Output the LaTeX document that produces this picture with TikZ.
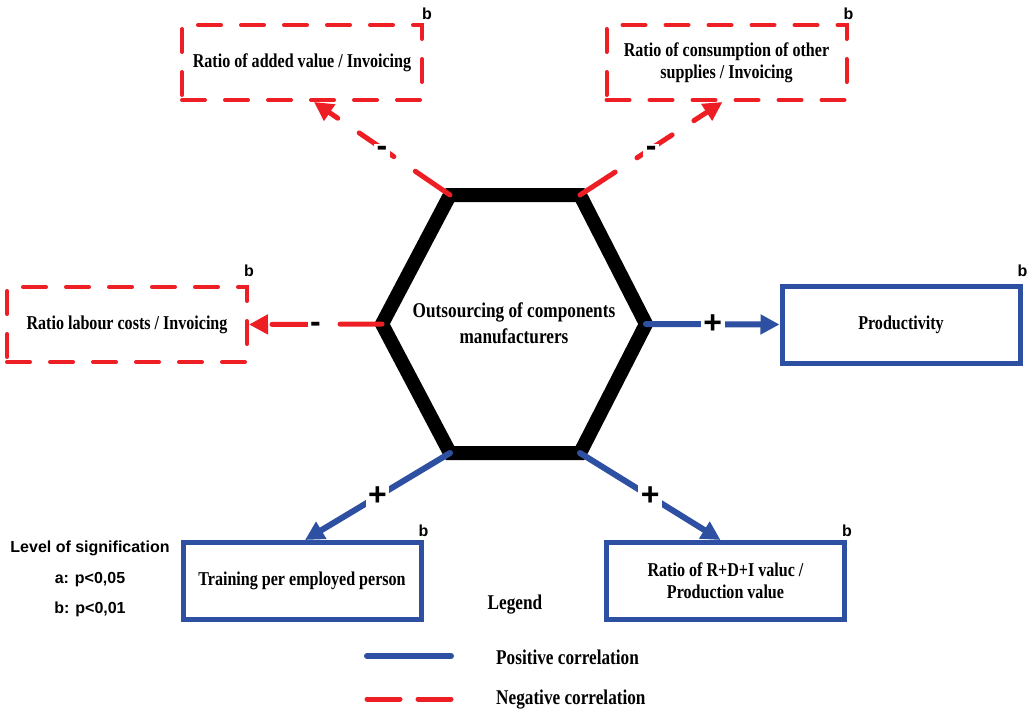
\documentclass[tikz,border=0pt]{standalone}
\usepackage{fontspec}
\setmainfont{Liberation Serif}
\setsansfont{Liberation Sans}
\newfontfamily\narrowserif{Liberation Serif}[FakeStretch=0.82]
\usetikzlibrary{arrows.meta}

\definecolor{negred}{RGB}{237,30,36}
\definecolor{posblue}{RGB}{46,80,162}

\begin{document}
\begin{tikzpicture}[
x=1pt, y=-1pt, % one unit = one pixel of the original figure
>={Triangle[length=19pt,width=19pt]},
every node/.style={inner sep=2pt},
boxtext/.style={align=center, font=\narrowserif\bfseries\fontsize{19.6}{22}\selectfont},
negbox/.style={boxtext, draw=negred, line width=4pt, line cap=round,
  dash pattern=on 23pt off 20pt, minimum width=240pt, minimum height=75pt},
posbox/.style={boxtext, draw=posblue, line width=5pt, minimum width=238pt, minimum height=77pt},
neglink/.style={->, draw=negred, line width=5pt, line cap=round, dash pattern=on 42pt off 26pt},
poslink/.style={->, draw=posblue, line width=6pt, line cap=round},
sign/.style={fill=white, inner sep=2.5pt, text=black, font=\sffamily\bfseries\fontsize{32}{32}\selectfont},
minus/.style={sign, yshift=-3pt},
sig/.style={anchor=south, yshift=1pt, font=\sffamily\bfseries\fontsize{16}{18}\selectfont},
legtext/.style={anchor=west, font=\narrowserif\bfseries\fontsize{21}{24}\selectfont}
]
\useasboundingbox (0,0) rectangle (1028,712);

% ================= Hexagon =================
\coordinate (hTL) at (450,195);
\coordinate (hTR) at (580,195);
\coordinate (hR) at (646,324);
\coordinate (hBR) at (580,453);
\coordinate (hBL) at (450,453);
\coordinate (hL) at (382,324);

\draw[line width=14pt] (hTL) -- (hTR) -- (hR) -- (hBR) -- (hBL) -- (hL) -- cycle;
\node[align=center, font=\narrowserif\bfseries\fontsize{21}{26}\selectfont] (outs) at (514,323)
  {Outsourcing of components\\manufacturers};

% ================= Boxes =================
% negative correlations (red, dashed)
\node[negbox] (addval) at (302,62.5) {Ratio of added value / Invoicing};
\node[negbox] (consum) at (726.5,62.5) {Ratio of consumption of other\\supplies / Invoicing};
\node[negbox] (labour) at (127,324.5) {Ratio labour costs / Invoicing};

% positive correlations (blue)
\node[posbox] (prod) at (901,324.5) {Productivity};
\node[posbox] (training) at (302,581) {Training per employed person};
\node[posbox] (rdi) at (725.5,581) {Ratio of R+D+I valuc /\\Production value};

% significance marks
\node[sig, xshift=3pt] (bAddval) at (addval.north east) {b};
\node[sig] (bConsum) at (consum.north east) {b};
\node[sig, yshift=5pt] (bLabour) at (labour.north east) {b};
\node[sig, yshift=4pt] (bProd) at (prod.north east) {b};
\node[sig] (bTraining) at (training.north east) {b};
\node[sig] (bRdi) at (rdi.north east) {b};

% ================= Edges =================
\draw[neglink] (hTL) -- node[minus] (sTL) {-} ([xshift=12pt]addval.south);
\draw[neglink] (hTR) -- node[minus] (sTR) {-} ([xshift=-4pt]consum.south);
\draw[neglink] (hL) -- node[minus] (sL) {-} (labour.east);

\draw[poslink] (hR) -- node[sign] (sR) {+} (prod.west);
\draw[poslink] (hBL) -- node[sign] (sBL) {+} ([xshift=3pt]training.north);
\draw[poslink] (hBR) -- node[sign] (sBR) {+} ([xshift=-5pt]rdi.north);

% ================= Level of signification =================
\node[font=\sffamily\bfseries\fontsize{16}{18}\selectfont] (level) at (90,548) {Level of signification};
\node[font=\sffamily\bfseries\fontsize{16}{18}\selectfont] (levA) at (90,580) {a: p<0,05};
\node[font=\sffamily\bfseries\fontsize{16}{18}\selectfont] (levB) at (90,609) {b: p<0,01};

% ================= Legend =================
\node[font=\narrowserif\bfseries\fontsize{21}{24}\selectfont] (legend) at (515,605) {Legend};

\coordinate (posA) at (367,656);
\coordinate (posB) at (451,656);
\draw[posblue, line width=6pt, line cap=round] (posA) -- (posB);
\node[legtext] (posText) at (494,657) {Positive correlation};

\coordinate (negA) at (367,699);
\coordinate (negB) at (451,699);
\draw[negred, line width=5pt, line cap=round, dash pattern=on 33pt off 18pt] (negA) -- (negB);
\node[legtext] (negText) at (494,700) {Negative correlation};

\end{tikzpicture}
\end{document}
